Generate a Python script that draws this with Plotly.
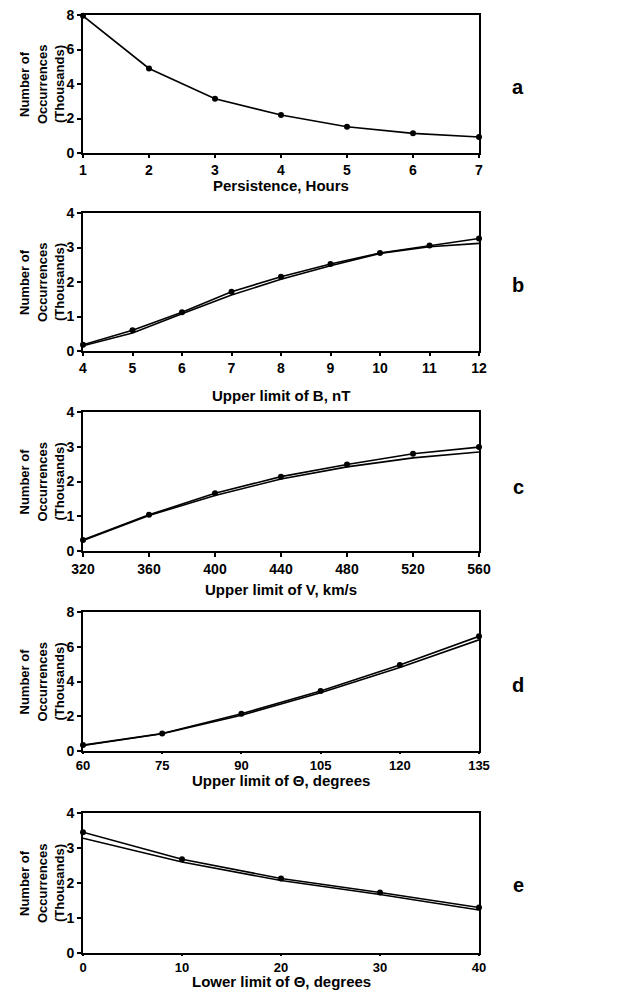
import plotly.graph_objects as go

# ---------------- data ----------------
a_x = [1, 2, 3, 4, 5, 6, 7]
a_y = [7.95, 4.9, 3.15, 2.2, 1.52, 1.14, 0.93]

b_x = [4, 5, 6, 7, 8, 9, 10, 11, 12]
b_y1 = [0.18, 0.6, 1.12, 1.72, 2.15, 2.52, 2.84, 3.06, 3.26]
b_y2 = [0.15, 0.52, 1.08, 1.62, 2.08, 2.47, 2.83, 3.02, 3.12]

c_x = [320, 360, 400, 440, 480, 520, 560]
c_y1 = [0.32, 1.04, 1.66, 2.14, 2.49, 2.8, 2.99]
c_y2 = [0.3, 1.02, 1.6, 2.07, 2.42, 2.68, 2.85]

d_x = [60, 75, 90, 105, 120, 135]
d_y1 = [0.34, 1.01, 2.14, 3.45, 4.95, 6.6]
d_y2 = [0.32, 0.99, 2.06, 3.35, 4.8, 6.4]

e_x = [0, 10, 20, 30, 40]
e_y1 = [3.45, 2.68, 2.13, 1.73, 1.3]
e_y2 = [3.28, 2.6, 2.07, 1.67, 1.23]

x_titles = ["Persistence, Hours", "Upper limit of B, nT", "Upper limit of V, km/s",
            "Upper limit of Θ, degrees", "Lower limit of Θ, degrees"]
letters = ["a", "b", "c", "d", "e"]
y_title_lines = ["Number of", "Occurrences", "(Thousands)"]

x_ranges = [[1, 7], [4, 12], [320, 560], [60, 135], [0, 40]]
x_ticks = [a_x, b_x, c_x, d_x, [0, 10, 20, 30, 40]]
y_ranges = [[0, 8], [0, 4], [0, 4], [0, 8], [0, 4]]
y_dticks = [2, 1, 1, 2, 1]

# ---------------- layout geometry ----------------
W, H = 631, 1004
panels_px = [(15, 153), (213, 351), (412, 551), (612, 751), (813, 953)]
xtitle_px = [185, 395, 589, 780, 981]
letter_px = [87, 285, 487, 685, 885]
xtick_len = [3, 3, 4, 1, 1]
xtick_size = [14, 14, 14, 13, 13]
ytitle_line_x = [24, 42, 59]
x_left, x_right = 83 / W, 479 / W
FAM = "Liberation Sans, Arial, sans-serif"


def py(px):
    return 1 - px / H


fig = go.Figure()

series = [
    (a_x, [a_y]),
    (b_x, [b_y1, b_y2]),
    (c_x, [c_y1, c_y2]),
    (d_x, [d_y1, d_y2]),
    (e_x, [e_y1, e_y2]),
]

for i, (xs, ys_list) in enumerate(series):
    ax = "" if i == 0 else str(i + 1)
    for j, ys in enumerate(ys_list):
        fig.add_trace(go.Scatter(
            x=xs, y=ys, xaxis="x" + ax, yaxis="y" + ax,
            mode="lines+markers" if j == 0 else "lines",
            line=dict(color="black", width=1.6),
            marker=dict(color="black", size=6),
            showlegend=False, cliponaxis=False,
        ))

tickfont = dict(family=FAM, color="black", size=14, weight="bold")
axis_common = dict(
    showline=True, linecolor="black", linewidth=2, mirror=True,
    ticks="outside", tickwidth=1.5, tickcolor="black",
    showgrid=False, zeroline=False, automargin=False,
)

annotations = []
for i in range(5):
    ax = "" if i == 0 else str(i + 1)
    top, bot = panels_px[i]
    fig.layout["xaxis" + ax] = dict(
        domain=[x_left, x_right], range=x_ranges[i], anchor="y" + ax,
        tickmode="array", tickvals=x_ticks[i], ticktext=[str(v) for v in x_ticks[i]],
        ticklen=xtick_len[i],
        tickfont=dict(family=FAM, color="black", size=xtick_size[i], weight="bold"),
        **axis_common)
    fig.layout["yaxis" + ax] = dict(
        domain=[py(bot), py(top)], range=y_ranges[i], anchor="x" + ax,
        dtick=y_dticks[i], tick0=0, ticklen=4, tickfont=tickfont, **axis_common)
    annotations.append(dict(
        text=x_titles[i], x=(x_left + x_right) / 2, y=py(xtitle_px[i]),
        xref="paper", yref="paper", showarrow=False, xanchor="center", yanchor="middle",
        font=dict(family=FAM, color="black", size=15, weight="bold")))
    for k, line in enumerate(y_title_lines):
        annotations.append(dict(
            text=line, x=ytitle_line_x[k] / W, y=py((top + bot) / 2),
            xref="paper", yref="paper", showarrow=False, xanchor="center", yanchor="middle",
            textangle=-90,
            font=dict(family=FAM, color="black", size=13, weight="bold")))
    annotations.append(dict(
        text=letters[i], x=518 / W, y=py(letter_px[i]),
        xref="paper", yref="paper", showarrow=False, xanchor="center", yanchor="middle",
        font=dict(family=FAM, color="black", size=20, weight="bold")))

fig.update_layout(
    template="none",
    width=W, height=H, margin=dict(l=0, r=0, t=0, b=0, pad=0),
    paper_bgcolor="white", plot_bgcolor="white",
    annotations=annotations, font=tickfont,
)

fig.write_html("out.html")
